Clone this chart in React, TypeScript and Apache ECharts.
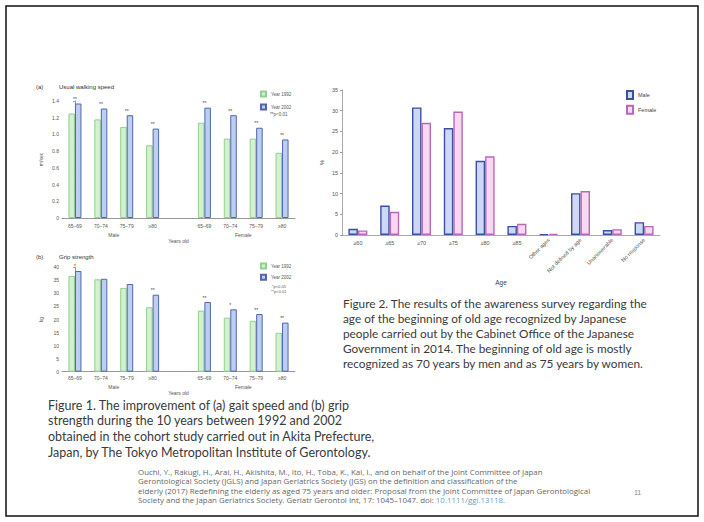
import React, { useEffect, useRef } from "react";
import * as echarts from "echarts";

// ---------- data ----------
const ageGroups = ["65–69", "70–74", "75–79", "≥80"];
const sexGroups = ["Male", "Female"];
const slotLabels = [...ageGroups, "", ...ageGroups];
const slotKeys = slotLabels.map((_, i) => "s" + i);

const speed1992 = [1.25, 1.18, 1.09, 0.87, null, 1.14, 0.95, 0.95, 0.78];
const speed2002 = [1.37, 1.31, 1.23, 1.07, null, 1.32, 1.23, 1.08, 0.94];
const speedSig = ["**", "**", "**", "**", "", "**", "**", "**", "**"];

const grip1992 = [36.7, 35.4, 32.1, 24.7, null, 23.4, 20.7, 19.5, 14.9];
const grip2002 = [38.6, 35.6, 33.6, 29.5, null, 26.7, 23.9, 22.1, 18.8];
const gripSig = ["*", "", "", "**", "", "**", "*", "**", "**"];

const ageOptions = ["≥60", "≥65", "≥70", "≥75", "≥80", "≥85", "Other ages", "Not defined by age", "Unanswerable", "No response"];
const malePct = [1.5, 7.1, 30.8, 25.8, 17.9, 2.2, 0.2, 10.1, 1.2, 3.1];
const femalePct = [1.1, 5.6, 27.1, 29.8, 19.0, 2.7, 0.3, 10.6, 1.4, 2.2];

const fig1Caption = [
  "Figure 1. The improvement of (a) gait speed and (b) grip",
  "strength during the 10 years between 1992 and 2002",
  "obtained in the cohort study carried out in Akita Prefecture,",
  "Japan, by The Tokyo Metropolitan Institute of Gerontology.",
];
const fig2Caption = [
  "Figure 2. The results of the awareness survey regarding the",
  "age of the beginning of old age recognized by Japanese",
  "people carried out by the Cabinet Office of the Japanese",
  "Government in 2014. The beginning of old age is mostly",
  "recognized as 70 years by men and as 75 years by women.",
];
const reference = [
  "Ouchi, Y., Rakugi, H., Arai, H., Akishita, M., Ito, H., Toba, K., Kai, I., and on behalf of the Joint Committee of Japan",
  "Gerontological Society (JGLS) and Japan Geriatrics Society (JGS) on the definition and classification of the",
  "elderly (2017) Redefining the elderly as aged 75 years and older: Proposal from the Joint Committee of Japan Gerontological",
  "Society and the Japan Geriatrics Society. Geriatr Gerontol Int, 17: 1045–1047. doi: ",
];
const doiText = "10.1111/ggi.13118.";
const pageNumber = "11";

// ---------- helpers ----------
const CAP_FONT = '"Lato", "Open Sans", sans-serif';
const REF_FONT = '"Open Sans", "Lato", sans-serif';
const SMALL_FONT = '"Liberation Sans", Arial, sans-serif';

function measure(text: string, family: string, size: number) {
  const ctx = document.createElement("canvas").getContext("2d")!;
  ctx.font = `${size}px ${family}`;
  return ctx.measureText(text).width;
}
function fitSize(text: string, family: string, target: number) {
  return (100 * target) / measure(text, family, 100);
}

const green = { color: "#d3f0cf", borderColor: "#93cf8e", borderWidth: 1 };
const blue = { color: "#bccff3", borderColor: "#4f67a6", borderWidth: 1 };
const maleStyle = { color: "#cbd8f6", borderColor: "#3d4f9f", borderWidth: 1.4 };
const femaleStyle = { color: "#f8d8f2", borderColor: "#b86ab4", borderWidth: 1.4 };

const tickLabel = { fontSize: 5, color: "#555", fontFamily: SMALL_FONT };

export default function App() {
  const ref = useRef<HTMLDivElement>(null);

  useEffect(() => {
    if (!ref.current) return;
    const chart = echarts.init(ref.current, null, { renderer: "svg" });

    const f1Size = fitSize(fig1Caption[0], CAP_FONT, 302);
    const f2Size = fitSize(fig2Caption[0], CAP_FONT, 305);
    const refSize = Math.min(7.9, fitSize(reference[0], REF_FONT, 425));
    const refTop = 471.5;
    const refStep = 9.6;
    const refLastWidth = measure(reference[3], REF_FONT, refSize);

    const small = (x: number, y: number, text: string, size = 4.5) => ({
      type: "text", x, y,
      style: { text, fontSize: size, fill: "#555", fontFamily: SMALL_FONT, verticalAlign: "middle" },
    });

    const graphics: any[] = [
      { type: "rect", shape: { x: 6, y: 6, width: 692, height: 510 }, style: { fill: "none", stroke: "#111", lineWidth: 1.5 } },
      { type: "text", x: 36, y: 87, style: { text: "(a)", fontSize: 6, fill: "#333", fontFamily: SMALL_FONT, verticalAlign: "middle" } },
      { type: "text", x: 59, y: 87, style: { text: "Usual walking speed", fontSize: 6, fill: "#333", fontFamily: SMALL_FONT, verticalAlign: "middle" } },
      { type: "text", x: 36, y: 257, style: { text: "(b)", fontSize: 6, fill: "#333", fontFamily: SMALL_FONT, verticalAlign: "middle" } },
      { type: "text", x: 59, y: 257, style: { text: "Grip strength", fontSize: 6, fill: "#333", fontFamily: SMALL_FONT, verticalAlign: "middle" } },
      small(270, 114.5, "**p<0.01"),
      small(272, 286, "*p<0.05", 4),
      small(271, 291.5, "**p<0.01", 4),
    ];
    fig1Caption.forEach((t, i) => {
      graphics.push({ type: "text", x: 48, y: 405 + i * 15.7, style: { text: t, fontSize: f1Size, fill: "#3a3a3a", fontFamily: CAP_FONT, verticalAlign: "middle" } });
    });
    fig2Caption.forEach((t, i) => {
      graphics.push({ type: "text", x: 343, y: 303 + i * 15, style: { text: t, fontSize: f2Size, fill: "#3a3a3a", fontFamily: CAP_FONT, verticalAlign: "middle" } });
    });
    reference.forEach((t, i) => {
      graphics.push({ type: "text", x: 138, y: refTop + i * refStep, style: { text: t, fontSize: refSize, fill: "#666", fontFamily: REF_FONT, verticalAlign: "middle" } });
    });
    graphics.push({ type: "text", x: 138 + refLastWidth, y: refTop + 3 * refStep, style: { text: doiText, fontSize: refSize, fill: "#6a9ccc", fontFamily: REF_FONT, verticalAlign: "middle" } });
    graphics.push({ type: "text", x: 634, y: 492, style: { text: pageNumber, fontSize: 7, fill: "#888", fontFamily: SMALL_FONT, verticalAlign: "middle" } });

    const catAxis = (gridIndex: number, margin: number) => ({
      type: "category",
      gridIndex,
      data: slotKeys,
      position: "bottom",
      axisLine: { lineStyle: { color: "#999", width: 1 } },
      axisTick: { show: false },
      axisLabel: { ...tickLabel, margin, interval: 0, formatter: (_v: string, i: number) => slotLabels[i] },
    });
    const sexAxis = (gridIndex: number, margin: number, nameGap: number) => ({
      type: "value",
      gridIndex,
      min: -0.5,
      max: slotLabels.length - 0.5,
      position: "bottom",
      axisLine: { show: false },
      axisTick: { show: false },
      splitLine: { show: false },
      axisLabel: {
        ...tickLabel,
        margin,
        customValues: [1.5, 6.5],
        formatter: (v: number) => (v < 4 ? sexGroups[0] : sexGroups[1]),
      },
      name: "Years old",
      nameLocation: "middle",
      nameGap,
      nameTextStyle: { ...tickLabel },
    });
    const valAxis = (gridIndex: number, max: number, interval: number, name: string, fmt: (v: number) => string) => ({
      type: "value",
      gridIndex,
      min: 0,
      max,
      interval,
      axisLine: { show: true, lineStyle: { color: "#999", width: 1 } },
      axisTick: { show: true, length: 2, lineStyle: { color: "#999" } },
      splitLine: { show: false },
      axisLabel: { ...tickLabel, margin: 3, formatter: fmt },
      name,
      nameLocation: "middle",
      nameRotate: 90,
      nameGap: 19,
      nameTextStyle: { ...tickLabel },
    });

    const option: any = {
      animation: false,
      backgroundColor: "#ffffff",
      textStyle: { fontFamily: SMALL_FONT },
      grid: [
        { left: 62, top: 101, width: 233, height: 117, outerBoundsMode: "none" },
        { left: 62, top: 267.3, width: 233, height: 104.4, outerBoundsMode: "none" },
        { left: 342, top: 90, width: 318, height: 145, outerBoundsMode: "none" },
      ],
      legend: [
        {
          left: 260, top: 90.5, orient: "vertical", data: ["Year 1992", "Year 2002"], padding: 0,
          itemWidth: 5, itemHeight: 5, itemGap: 6, textStyle: { fontSize: 4.5, color: "#555" }, icon: "rect",
        },
        {
          left: 260, top: 262.5, orient: "vertical", data: ["Year 1992", "Year 2002"], padding: 0,
          itemWidth: 5, itemHeight: 5, itemGap: 4.3, textStyle: { fontSize: 4.5, color: "#555" }, icon: "rect",
        },
        {
          left: 626, top: 90, orient: "vertical", data: ["Male", "Female"], padding: 0,
          itemWidth: 6, itemHeight: 8, itemGap: 4.7, textStyle: { fontSize: 5.5, color: "#444" }, icon: "rect",
        },
      ],
      xAxis: [
        catAxis(0, 5),
        sexAxis(0, 14, 20.5),
        catAxis(1, 4),
        sexAxis(1, 12.5, 19),
        {
          type: "category",
          gridIndex: 2,
          data: ageOptions,
          position: "bottom",
          axisLine: { lineStyle: { color: "#aaa", width: 1 } },
          axisTick: { show: false },
          axisLabel: { fontSize: 5.5, color: "#555", margin: 5, interval: 0, formatter: (v: string, i: number) => (i < 6 ? v : "") },
        },
        {
          type: "category",
          gridIndex: 2,
          data: ageOptions,
          position: "bottom",
          axisLine: { show: false },
          axisTick: { show: false },
          axisLabel: { fontSize: 5.5, color: "#555", margin: 4, interval: 0, rotate: 45, formatter: (v: string, i: number) => (i >= 6 ? v : "") },
          name: "Age",
          nameLocation: "middle",
          nameGap: 44,
          nameTextStyle: { fontSize: 6.5, color: "#444" },
        },
      ],
      yAxis: [
        valAxis(0, 1.4, 0.2, "m/sec", (v) => (v === 0 ? "0" : v.toFixed(1))),
        valAxis(1, 40, 5, "kg", (v) => String(v)),
        {
          ...valAxis(2, 35, 5, "%", (v) => String(v)),
          axisLine: { show: true, lineStyle: { color: "#aaa", width: 1 } },
          axisLabel: { fontSize: 5.5, color: "#555", margin: 4 },
          nameTextStyle: { fontSize: 6, color: "#444" },
          nameGap: 17,
        },
      ],
      series: [
        { type: "bar", name: "Year 1992", xAxisIndex: 0, yAxisIndex: 0, data: speed1992, barWidth: 6.5, barGap: "0%", itemStyle: green },
        {
          type: "bar", name: "Year 2002", xAxisIndex: 0, yAxisIndex: 0, data: speed2002, barWidth: 6.5, barGap: "0%", itemStyle: blue,
          label: { show: true, position: "top", distance: 2, offset: [-3.2, 0], fontSize: 5, color: "#444", formatter: (p: any) => speedSig[p.dataIndex] },
        },
        { type: "bar", name: "Year 1992", xAxisIndex: 2, yAxisIndex: 1, data: grip1992, barWidth: 6.5, barGap: "0%", itemStyle: green },
        {
          type: "bar", name: "Year 2002", xAxisIndex: 2, yAxisIndex: 1, data: grip2002, barWidth: 6.5, barGap: "0%", itemStyle: blue,
          label: { show: true, position: "top", distance: 2, offset: [-3.2, 0], fontSize: 5, color: "#444", formatter: (p: any) => gripSig[p.dataIndex] },
        },
        { type: "bar", name: "Male", xAxisIndex: 4, yAxisIndex: 2, data: malePct, barWidth: 9.5, barGap: "0%", itemStyle: maleStyle },
        { type: "bar", name: "Female", xAxisIndex: 4, yAxisIndex: 2, data: femalePct, barWidth: 9.5, barGap: "0%", itemStyle: femaleStyle },
      ],
      graphic: graphics,
    };

    chart.setOption(option);
    return () => chart.dispose();
  }, []);

  return <div ref={ref} style={{ position: "fixed", left: 0, top: 0, width: 704, height: 522, background: "#fff" }} />;
}
